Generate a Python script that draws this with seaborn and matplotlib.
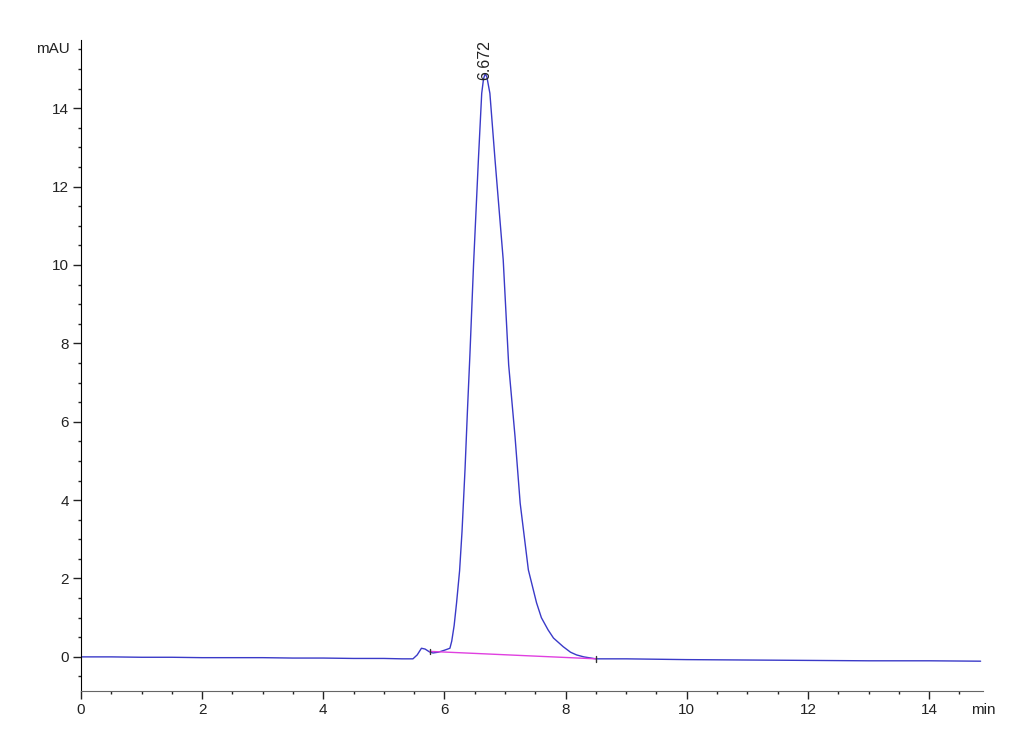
import numpy as np
import pandas as pd
import matplotlib.pyplot as plt
from matplotlib.ticker import MultipleLocator
import seaborn as sns

# chromatogram trace (time in min, signal in mAU)
time_min = [0.0, 0.5, 1.0, 1.5, 2.0, 2.5, 3.0, 3.5, 4.0, 4.5, 5.0, 5.3, 5.48,
            5.55, 5.62, 5.68, 5.75, 5.81, 5.9, 6.0, 6.09, 6.12, 6.16, 6.2,
            6.25, 6.29, 6.34, 6.38, 6.42, 6.48, 6.56, 6.615, 6.645,
            6.672, 6.7, 6.75, 6.835, 6.97, 7.06, 7.165, 7.25, 7.385,
            7.52, 7.6, 7.71, 7.8, 7.96, 8.08, 8.18, 8.3, 8.5, 9.0, 9.5, 10.0,
            11.0, 12.0, 13.0, 14.0, 14.85]
signal_mau = [0.0, 0.0, -0.01, -0.01, -0.02, -0.02, -0.02, -0.03, -0.03, -0.04,
              -0.04, -0.05, -0.05, 0.05, 0.22, 0.2, 0.13, 0.1, 0.12, 0.17, 0.22,
              0.4, 0.8, 1.38, 2.2, 3.2, 4.8, 6.3, 7.7, 10.0, 12.68,
              14.38, 14.75, 14.88, 14.8, 14.38, 12.68, 10.13, 7.45, 5.62,
              3.92, 2.22, 1.38, 1.0, 0.69, 0.48, 0.26, 0.12, 0.05, 0.0, -0.05,
              -0.05, -0.06, -0.07, -0.08, -0.09, -0.1, -0.1, -0.11]

# integration baseline and peak label
base_time = [5.76, 8.5]
base_mau = [0.14, -0.05]
peak_rt = 6.672
peak_label = "6.672"

df = pd.DataFrame({"min": time_min, "mAU": signal_mau})
base = pd.DataFrame({"min": base_time, "mAU": base_mau})

sns.set_style("ticks")
plt.rcParams["font.family"] = ["Liberation Sans", "DejaVu Sans"]

fig = plt.figure(figsize=(10.3, 7.55), dpi=100)
ax = fig.add_axes([0.0786, 0.0848, 0.8758, 0.8622])

sns.lineplot(data=df, x="min", y="mAU", ax=ax, color="#3a3ac8", lw=1.0)
sns.lineplot(data=base, x="min", y="mAU", ax=ax, color="#e040e0", lw=1.0)

# start/end markers of the integration
for t, v in zip(base_time, base_mau):
    ax.plot([t, t], [v - 0.07, v + 0.07], color="#333333", lw=1.0)

ax.text(peak_rt, 14.72, peak_label, rotation=90, ha="center", va="bottom",
        fontsize=11.5, color="#222222", clip_on=False)

ax.set_xlim(0, 14.89)
ax.set_ylim(-0.87, 15.74)
ax.xaxis.set_major_locator(MultipleLocator(2))
ax.xaxis.set_minor_locator(MultipleLocator(0.5))
ax.yaxis.set_major_locator(MultipleLocator(2))
ax.yaxis.set_minor_locator(MultipleLocator(0.5))
ax.tick_params(which="major", length=5.5, width=1, labelsize=11,
               colors="#222222", pad=3)
ax.tick_params(which="minor", length=2.5, width=1, color="#222222")
ax.set_xlabel("")
ax.set_ylabel("")

sns.despine(ax=ax)
ax.spines["left"].set_color("black")
ax.spines["bottom"].set_color("#666666")

ax.text(-0.012, 15.5, "mAU", transform=ax.get_yaxis_transform(),
        ha="right", va="center", fontsize=11, color="#222222")
ax.text(14.89, -0.018, "min", transform=ax.get_xaxis_transform(),
        ha="center", va="top", fontsize=11, color="#222222", clip_on=False)

plt.savefig("out.png", dpi=100)
